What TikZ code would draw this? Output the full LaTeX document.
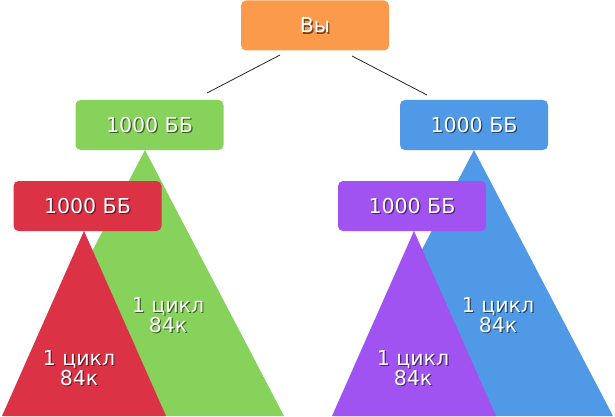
\documentclass[tikz,border=0pt]{standalone}
\usepackage{fontspec}
\setmainfont{DejaVu Sans}
\definecolor{cOr}{HTML}{FA9A4A}
\definecolor{cGr}{HTML}{86D25A}
\definecolor{cRd}{HTML}{DB3246}
\definecolor{cBl}{HTML}{5099E6}
\definecolor{cPu}{HTML}{A053F1}
\begin{document}
\begin{tikzpicture}[x=1pt,y=-1pt,
  box/.style={rounded corners=5pt, minimum width=148pt, minimum height=50pt, inner sep=0pt},
  txtfont/.style={font=\fontsize{20.5}{20.5}\selectfont, align=center, inner sep=0pt},
  lbl/.style={txtfont, text=white},
  shd/.style={txtfont, text=black, text opacity=0.55, xshift=1.2pt, yshift=-1.2pt},
  link/.style={draw=black!85, line width=0.8pt}]
\useasboundingbox (0,0) rectangle (615,417);

% left tree
\coordinate (gL) at (6,416);
\coordinate (gR) at (284,416);
\coordinate (gT) at (145,150);
\fill[cGr] (gL) -- (gR) -- (gT) -- cycle;
\node[box, fill=cGr] (green) at (149.5,125) {};
\node[shd] at (green) {1000 ББ};
\node[lbl] (greenT) at (green) {1000 ББ};

\coordinate (rL) at (2,416);
\coordinate (rR) at (166,416);
\coordinate (rT) at (84,231);
\fill[cRd] (rL) -- (rR) -- (rT) -- cycle;
\node[box, fill=cRd] (red) at (87.5,206) {};
\node[shd] at (red) {1000 ББ};
\node[lbl] (redT) at (red) {1000 ББ};

\node[shd] at (168,315) {1 цикл\\84к};
\node[lbl] (gCyc) at (168,315) {1 цикл\\84к};
\node[shd] at (79,368) {1 цикл\\84к};
\node[lbl] (rCyc) at (79,368) {1 цикл\\84к};

% right tree
\coordinate (bL) at (335,416);
\coordinate (bR) at (613,416);
\coordinate (bT) at (474,150);
\fill[cBl] (bL) -- (bR) -- (bT) -- cycle;
\node[box, fill=cBl] (blue) at (474,125) {};
\node[shd] at (blue) {1000 ББ};
\node[lbl] (blueT) at (blue) {1000 ББ};

\coordinate (pL) at (332,416);
\coordinate (pR) at (496,416);
\coordinate (pT) at (414,231);
\fill[cPu] (pL) -- (pR) -- (pT) -- cycle;
\node[box, fill=cPu] (purple) at (412,206) {};
\node[shd] at (purple) {1000 ББ};
\node[lbl] (purpleT) at (purple) {1000 ББ};

\node[shd] at (498,315) {1 цикл\\84к};
\node[lbl] (bCyc) at (498,315) {1 цикл\\84к};
\node[shd] at (413,368) {1 цикл\\84к};
\node[lbl] (pCyc) at (413,368) {1 цикл\\84к};

% top
\node[box, fill=cOr] (you) at (315,25.5) {};
\node[shd] at (you) {Вы};
\node[lbl] (youT) at (you) {Вы};

\coordinate (l1a) at (280,55);
\coordinate (l1b) at (207,93);
\coordinate (l2a) at (352,56);
\coordinate (l2b) at (427,95);
\draw[link] (l1a) -- (l1b);
\draw[link] (l2a) -- (l2b);
\end{tikzpicture}
\end{document}
